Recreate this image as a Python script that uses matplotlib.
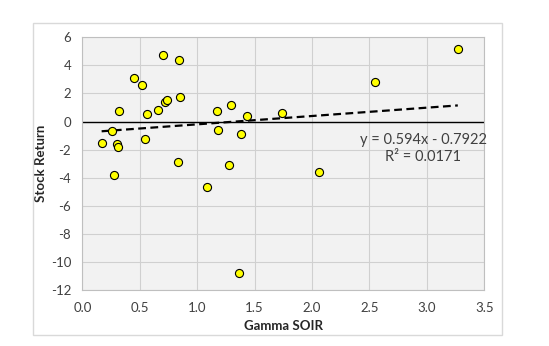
import matplotlib.pyplot as plt
import numpy as np
from matplotlib.patches import Rectangle

plt.rcParams['font.family'] = ['Lato', 'DejaVu Sans']

# Gamma SOIR vs stock return
gamma_soir = [0.168, 0.261, 0.299, 0.311, 0.276, 0.319, 0.450, 0.517, 0.566, 0.543,
              0.659, 0.700, 0.723, 0.741, 0.839, 0.848, 0.834, 1.089, 1.173, 1.182,
              1.295, 1.281, 1.380, 1.438, 1.362, 1.737, 2.059, 2.550, 3.270]
stock_return = [-1.50, -0.65, -1.62, -1.79, -3.79, 0.78, 3.13, 2.62, 0.56, -1.22,
                0.85, 4.77, 1.37, 1.54, 4.41, 1.77, -2.86, -4.64, 0.78, -0.58,
                1.20, -3.07, -0.86, 0.42, -10.77, 0.63, -3.57, 2.84, 5.19]

slope, intercept = 0.594, -0.7922
r_squared = 0.0171

x_ticks = [0.0, 0.5, 1.0, 1.5, 2.0, 2.5, 3.0, 3.5]
y_ticks = [-12, -10, -8, -6, -4, -2, 0, 2, 4, 6]

fig = plt.figure(figsize=(5.49, 3.46), dpi=100)
fig.patch.set_facecolor('white')
# outer chart border
fig.patches.append(Rectangle((33 / 549, 1 - 335 / 346), 469 / 549, 312 / 346,
                             transform=fig.transFigure, fill=False,
                             edgecolor='#d9d9d9', linewidth=1))

ax = fig.add_axes([0.150, 0.162, 0.732, 0.730])
ax.set_facecolor('#f2f2f2')

ax.set_xlim(0, 3.5)
ax.set_ylim(-12, 6)
ax.set_xticks(x_ticks)
ax.set_yticks(y_ticks)
ax.set_xticklabels([f'{t:.1f}' for t in x_ticks])
ax.set_yticklabels([str(t) for t in y_ticks])
ax.grid(True, color='#d0d0d0', linewidth=0.8)
ax.set_axisbelow(True)
ax.tick_params(length=0, labelsize=9.5, colors='#404040')
ax.tick_params(axis='x', pad=9)
ax.tick_params(axis='y', pad=8)
for s in ax.spines.values():
    s.set_color('#bfbfbf')
    s.set_linewidth(0.8)

ax.axhline(0, color='black', linewidth=1.0, zorder=2)

# trendline over the data range
xs = np.array([min(gamma_soir), max(gamma_soir)])
ax.plot(xs, slope * xs + intercept, color='black', linestyle=(0, (3.5, 2)),
        linewidth=1.6, zorder=3)

ax.scatter(gamma_soir, stock_return, s=34, color='#ffff00', edgecolor='black',
           linewidth=0.8, zorder=4)

ax.text(2.97, -1.3, f'y = {slope}x - {abs(intercept)}', ha='center', va='center',
        fontsize=10.5, color='#404040')
ax.text(2.97, -2.5, f'R² = {r_squared}', ha='center', va='center',
        fontsize=10.5, color='#404040')

ax.set_xlabel('Gamma SOIR', fontsize=9.5, fontweight='bold', color='#262626', labelpad=4)
ax.set_ylabel('Stock Return', fontsize=9.5, fontweight='bold', color='#262626', labelpad=3)

fig.savefig('out.png', dpi=100)
